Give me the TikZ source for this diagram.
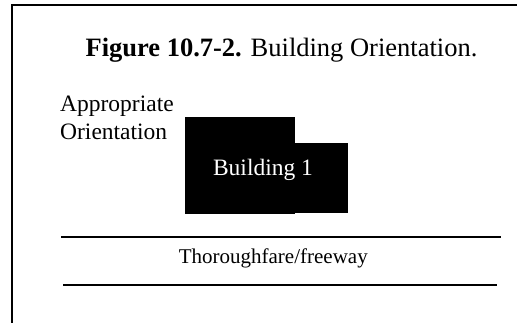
\documentclass[tikz,border=0pt]{standalone}
\usepackage{fontspec}
\setmainfont{Liberation Serif}
\usetikzlibrary{positioning}

\begin{document}
\begin{tikzpicture}[y=-1pt, x=1pt]

\clip (0,0) rectangle (517,323);

% frame
\draw[line width=2pt] (12,330) -- (12,5) -- (530,5);

% title
\draw (281.5,56.7) node[anchor=base, inner sep=0] (title) {\fontsize{26.5}{30}\selectfont\textbf{Figure 10.7-2.} Building Orientation.};

% label
\draw (60,111.7) node[anchor=base west, inner sep=0] (appr) {\fontsize{23.5}{28}\selectfont Appropriate}
      (60,140) node[anchor=base west, inner sep=0] (orient) {\fontsize{23.5}{28}\selectfont Orientation};

% building
\fill (185,117) rectangle (295,214.3);
\fill (295,143.3) rectangle (347.5,212.7);
\draw (263,176) node[anchor=base, inner sep=0, text=white] (bldg) {\fontsize{23.5}{28}\selectfont Building 1};

% road
\draw[line width=2pt] (61,236.7) coordinate (roadNW) -- (500.7,236.7) coordinate (roadNE);
\draw[line width=2pt] (63.3,285) coordinate (roadSW) -- (496.7,285) coordinate (roadSE);
\draw (273.3,263.3) node[anchor=base, inner sep=0] (road) {\fontsize{21}{25}\selectfont Thoroughfare/freeway};

\end{tikzpicture}
\end{document}
